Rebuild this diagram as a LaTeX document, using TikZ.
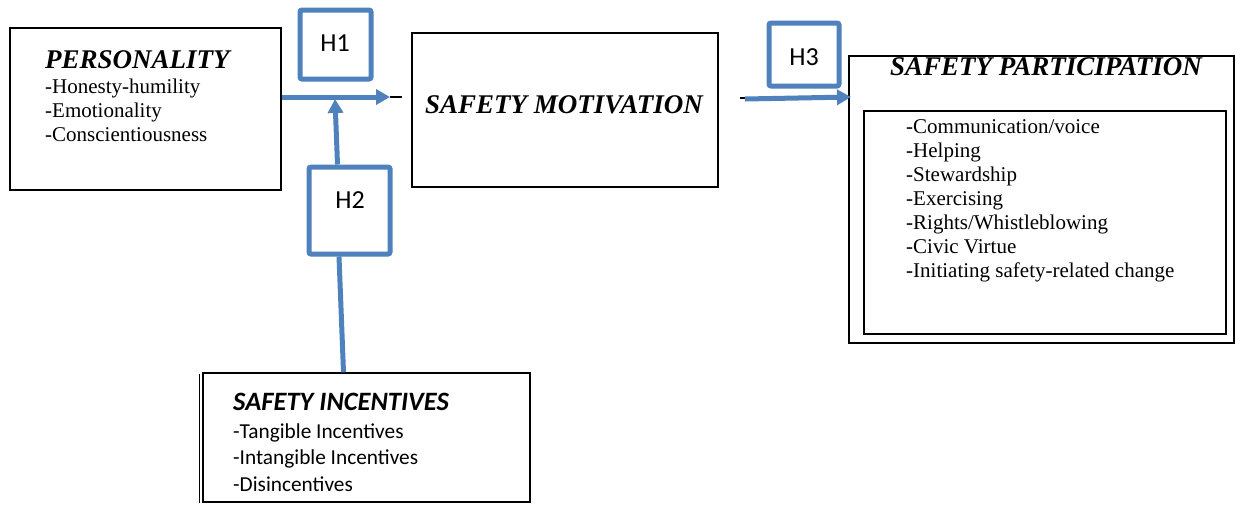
\documentclass[tikz,border=0pt]{standalone}
\usepackage{fontspec}
\setmainfont{Liberation Serif}
\newfontfamily\calfont{Carlito}
\usetikzlibrary{arrows.meta,shadows}
\definecolor{hblue}{HTML}{4F81BD}
\begin{document}
\begin{tikzpicture}[x=1pt,y=-1pt,
  box/.style={draw=black,line width=1.4pt,inner sep=0pt,fill=white},
  hbox/.style={draw=hblue,line width=5pt,rounded corners=2pt,fill=white,inner sep=0pt,
    drop shadow={shadow xshift=1pt,shadow yshift=-2pt,opacity=0.25}},
  hlabel/.style={font=\calfont\fontsize{26}{30}\selectfont,inner sep=0pt,anchor=base},
  ttl/.style={font=\fontsize{27}{30}\selectfont\bfseries\itshape,inner sep=0pt},
  itm/.style={font=\fontsize{21}{24}\selectfont,inner sep=0pt,align=left,anchor=base west},
  calttl/.style={font=\calfont\fontsize{26.5}{30}\selectfont\bfseries\itshape,inner sep=0pt,anchor=base west},
  calitm/.style={font=\calfont\fontsize{21.3}{26.5}\selectfont,inner sep=0pt,align=left,anchor=base west},
  conn/.style={draw=hblue,line width=5pt,-{Triangle[length=14pt,width=15pt]}},
  plain/.style={draw=hblue,line width=5pt},
  thin/.style={draw=black,line width=1.2pt}]
\useasboundingbox (0,0) rectangle (1236,504);

% boxes
\node[box,minimum width=271pt,minimum height=162pt] (pers) at (145.5,109) {};
\node[box,minimum width=306pt,minimum height=154pt] (mot) at (565,110) {};
\node[box,minimum width=385pt,minimum height=287pt] (partO) at (1041.5,199.5) {};
\node[box,minimum width=362pt,minimum height=223pt] (partI) at (1045,222.5) {};
\node[box,minimum width=327pt,minimum height=129pt] (inc) at (366.5,437.5) {};
\draw[thin] ([xshift=-3pt,yshift=-2pt]inc.north west) -- ([xshift=-3pt]inc.south west);

% texts (multi-line nodes: base = baseline of the last line)
\node[ttl,anchor=base west] (perst) at (45,68) {PERSONALITY};
\node[itm] (persi) at (45,141) {-Honesty-humility\\-Emotionality\\-Conscientiousness};
\node[ttl,anchor=base] (mott) at (564,113) {SAFETY MOTIVATION};
\node[ttl,anchor=base] (partt) at (1046,75) {SAFETY PARTICIPATION};
\node[itm] (parti) at (906,277) {-Communication/voice\\-Helping\\-Stewardship\\-Exercising\\-Rights/Whistleblowing\\-Civic Virtue\\-Initiating safety-related change};
\node[calttl] (inct) at (233,410) {SAFETY INCENTIVES};
\node[calitm] (inci) at (233,491) {-Tangible Incentives\\-Intangible Incentives\\-Disincentives};

% hypothesis boxes
\node[hbox,minimum width=71pt,minimum height=69pt] (h1) at (335.5,44.5) {};
\node[hbox,minimum width=81pt,minimum height=87pt] (h2) at (349.5,210.5) {};
\node[hbox,minimum width=70pt,minimum height=63pt] (h3) at (804,54.5) {};
\node[hlabel] (h1l) at (335,51) {H1};
\node[hlabel] (h2l) at (350,208) {H2};
\node[hlabel] (h3l) at (804,65) {H3};

% connectors
\coordinate (h1tip) at (390,97);
\coordinate (h1end) at (402,97);
\coordinate (h2tip) at (335,99);
\coordinate (m3) at (740,98);
\coordinate (h3s) at (745,99);
\coordinate (h3tip) at (851,97);

\draw[conn] (pers.east |- h1tip) -- (h1tip);
\draw[thin] (h1tip) -- (h1end);
\draw[conn] ([xshift=-12pt]h2.north) -- (h2tip);
\draw[plain] ([xshift=-10.5pt]h2.south) -- ([xshift=-23pt]inc.north);
\draw[thin] (m3) -- ++(6,0);
\draw[conn] (h3s) -- (h3tip);
\end{tikzpicture}
\end{document}
